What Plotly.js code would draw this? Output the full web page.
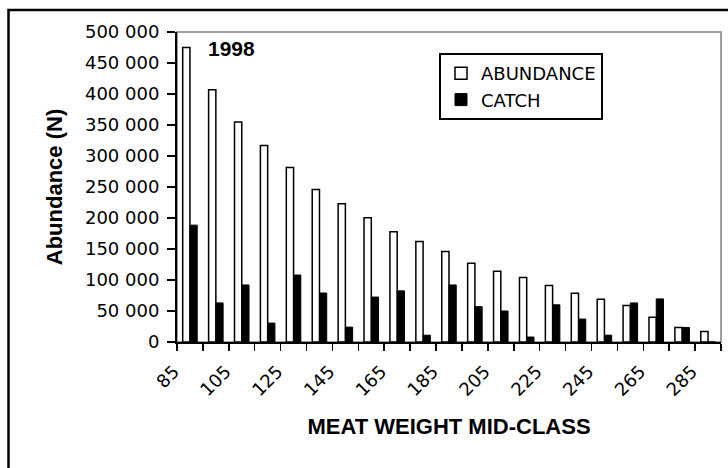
<!DOCTYPE html>
<html>
<head>
<meta charset="utf-8">
<script src="https://cdn.plot.ly/plotly-3.0.1.min.js"></script>
<style>
  html, body { margin: 0; padding: 0; background: #ffffff; }
  #chart { width: 728px; height: 468px; }
</style>
</head>
<body>
<div id="chart"></div>
<script>
// ---- data ----
const sizeClasses = [85, 95, 105, 115, 125, 135, 145, 155, 165, 175, 185, 195, 205, 215, 225, 235, 245, 255, 265, 275, 285];
const abundance = [475000, 407000, 355000, 317000, 281500, 246000, 223000, 200500, 178000, 162000, 146000, 127000, 114000, 104000, 91000, 78500, 69000, 59000, 40000, 23500, 17000];
const catchN = [188500, 63000, 92000, 30500, 108000, 79000, 24000, 72500, 82500, 11000, 92000, 57000, 50000, 8000, 60000, 37000, 11000, 63000, 69500, 23500, 0];
const tickLabels = ['85', '105', '125', '145', '165', '185', '205', '225', '245', '265', '285'];
const seriesNames = ['ABUNDANCE', 'CATCH'];
const yearLabel = '1998';
const xTitle = 'MEAT WEIGHT MID-CLASS';
const yTitle = 'Abundance (N)';

// ---- layout geometry ----
const W = 728, H = 468;
const M = { l: 177, r: 7, t: 32, b: 126 };
const pw = W - M.l - M.r, ph = H - M.t - M.b;
const px = x => (x - M.l) / pw;          // pixel -> paper x
const py = y => (H - M.b - y) / ph;      // pixel -> paper y

const classStep = sizeClasses[1] - sizeClasses[0];
const boundaries = sizeClasses.map(c => c - classStep / 2).concat([sizeClasses[sizeClasses.length - 1] + classStep / 2]);

const tickFont = { family: 'DejaVu Sans', size: 18, color: '#000000' };
const boldFont = { family: 'Liberation Sans', size: 22, color: '#000000', weight: 700 };

const traces = [
  {
    type: 'bar', name: seriesNames[0], x: sizeClasses, y: abundance,
    legendgroup: 'a',
    marker: { color: '#ffffff', line: { color: '#000000', width: 1.5 } },
    hoverinfo: 'x+y+name'
  },
  {
    type: 'bar', name: seriesNames[1], x: sizeClasses, y: catchN,
    legendgroup: 'c',
    marker: { color: '#000000', line: { color: '#000000', width: 1 } },
    hoverinfo: 'x+y+name'
  }
];

const layout = {
  width: W, height: H,
  margin: M,
  paper_bgcolor: '#ffffff', plot_bgcolor: '#ffffff',
  separators: '. ',
  barmode: 'group', bargap: 0.44, bargroupgap: 0,
  showlegend: true,
  legend: {
    x: px(439), y: py(53), xanchor: 'left', yanchor: 'top',
    bgcolor: '#ffffff', bordercolor: '#000000', borderwidth: 2,
    font: { family: 'DejaVu Sans', size: 18, color: '#000000' },
    tracegroupgap: 7, traceorder: 'normal'
  },
  xaxis: {
    type: 'linear',
    range: [boundaries[0], boundaries[boundaries.length - 1]],
    tickmode: 'array',
    tickvals: tickLabels.map(Number),
    ticktext: tickLabels,
    ticks: '', tickangle: -45,
    tickfont: tickFont,
    ticklabelstandoff: 10, ticklabelshift: -16,
    minor: { tickmode: 'array', tickvals: boundaries, ticks: 'outside', ticklen: 7, tickwidth: 1.5, tickcolor: '#000000', showgrid: false },
    showline: true, linecolor: '#000000', linewidth: 2,
    showgrid: false, zeroline: false,
    title: { text: xTitle, font: boldFont, standoff: 20 },
    automargin: false, fixedrange: true
  },
  yaxis: {
    range: [0, 500000], dtick: 50000, tick0: 0,
    tickformat: ',d',
    ticks: 'outside', ticklen: 8, tickwidth: 1.5, tickcolor: '#000000',
    tickfont: tickFont, ticklabelstandoff: 4,
    showline: true, linecolor: '#000000', linewidth: 2,
    showgrid: false, zeroline: false,
    title: { text: yTitle, font: boldFont, standoff: 16 },
    automargin: false, fixedrange: true
  },
  shapes: [
    // grey plot-area frame (top and right sides visible)
    { type: 'rect', xref: 'paper', yref: 'paper', x0: 0, x1: 1, y0: 0, y1: 1,
      line: { color: '#808080', width: 1.5 }, layer: 'below' },
    // black outer chart border (partly cut by the picture's edge)
    { type: 'rect', xref: 'paper', yref: 'paper', x0: px(8.5), x1: px(731), y0: py(471), y1: py(10),
      line: { color: '#000000', width: 2.5 }, layer: 'below' }
  ],
  annotations: [
    { text: yearLabel, xref: 'paper', yref: 'paper', x: px(231), y: py(49),
      xanchor: 'center', yanchor: 'middle', showarrow: false,
      font: { family: 'Liberation Sans', size: 21, color: '#000000', weight: 700 } }
  ]
};

Plotly.newPlot('chart', traces, layout, { displayModeBar: false, staticPlot: true });
</script>
</body>
</html>
